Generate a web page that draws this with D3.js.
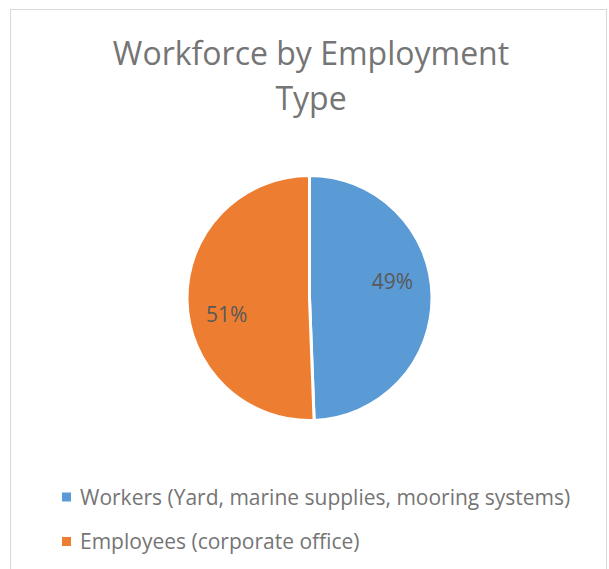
<!DOCTYPE html>
<html>
<head>
<meta charset="utf-8">
<script src="https://cdn.jsdelivr.net/npm/d3@7"></script>
<style>
  body { margin: 0; background: #fff; }
  text { font-family: "Open Sans", sans-serif; }
</style>
</head>
<body>
<div id="chart"></div>
<script>
// DATA ----------------------------------------------
const categories = [
  "Workers (Yard, marine supplies, mooring systems)",
  "Employees (corporate office)",
];
const shares = [49.4, 50.6];
const colors = ["#5B9BD5", "#ED7D31"];
const titleLines = ["Workforce by Employment", "Type"];

const width = 609,
  height = 569;

const svg = d3
  .select("#chart")
  .append("svg")
  .attr("width", width)
  .attr("height", height);

// chart frame (bottom edge runs off the picture)
svg
  .append("rect")
  .attr("x", 10.5)
  .attr("y", 9.5)
  .attr("width", 596)
  .attr("height", 600)
  .attr("fill", "#fff")
  .attr("stroke", "#d9d9d9");

// title
svg
  .selectAll(".title")
  .data(titleLines)
  .enter()
  .append("text")
  .attr("class", "title")
  .attr("x", 311)
  .attr("y", (d, i) => 65 + i * 45)
  .attr("text-anchor", "middle")
  .attr("font-size", 32)
  .attr("fill", "#757575")
  .text((d) => d);

// PIE ----------------------------------------------
const data = categories.map((c, i) => ({ name: c, value: shares[i], color: colors[i] }));
const radius = 122.5;
const pie = d3.pie().sort(null).value((d) => d.value);
const arc = d3.arc().innerRadius(0).outerRadius(radius);

const g = svg.append("g").attr("transform", "translate(309.5,298)");

const arcs = pie(data);

g.selectAll(".slice")
  .data(arcs)
  .enter()
  .append("path")
  .attr("class", "slice")
  .attr("d", arc)
  .attr("fill", (d) => d.data.color)
  .attr("stroke", "#fff")
  .attr("stroke-width", 3)
  .attr("stroke-linejoin", "round");

// data labels, "best fit" sits a little counter-clockwise of the mid angle
const labelR = radius * 0.69;
const shift = (10 * Math.PI) / 180;
g.selectAll(".label")
  .data(arcs)
  .enter()
  .append("text")
  .attr("class", "label")
  .attr("x", (d) => labelR * Math.sin((d.startAngle + d.endAngle) / 2 - shift))
  .attr("y", (d) => -labelR * Math.cos((d.startAngle + d.endAngle) / 2 - shift) + 7.5)
  .attr("text-anchor", "middle")
  .attr("font-size", 21)
  .attr("fill", "#595959")
  .text((d) => Math.round(d.data.value) + "%");

// LEGEND ----------------------------------------------
const legend = svg
  .selectAll(".legend")
  .data(data)
  .enter()
  .append("g")
  .attr("class", "legend")
  .attr("transform", (d, i) => "translate(62," + (497 + i * 44.5) + ")");

legend
  .append("rect")
  .attr("x", 0)
  .attr("y", -4.5)
  .attr("width", 9)
  .attr("height", 9)
  .attr("fill", (d) => d.color);

legend
  .append("text")
  .attr("x", 18)
  .attr("y", 7.5)
  .attr("font-size", 21)
  .attr("fill", "#757575")
  .text((d) => d.name);
</script>
</body>
</html>
